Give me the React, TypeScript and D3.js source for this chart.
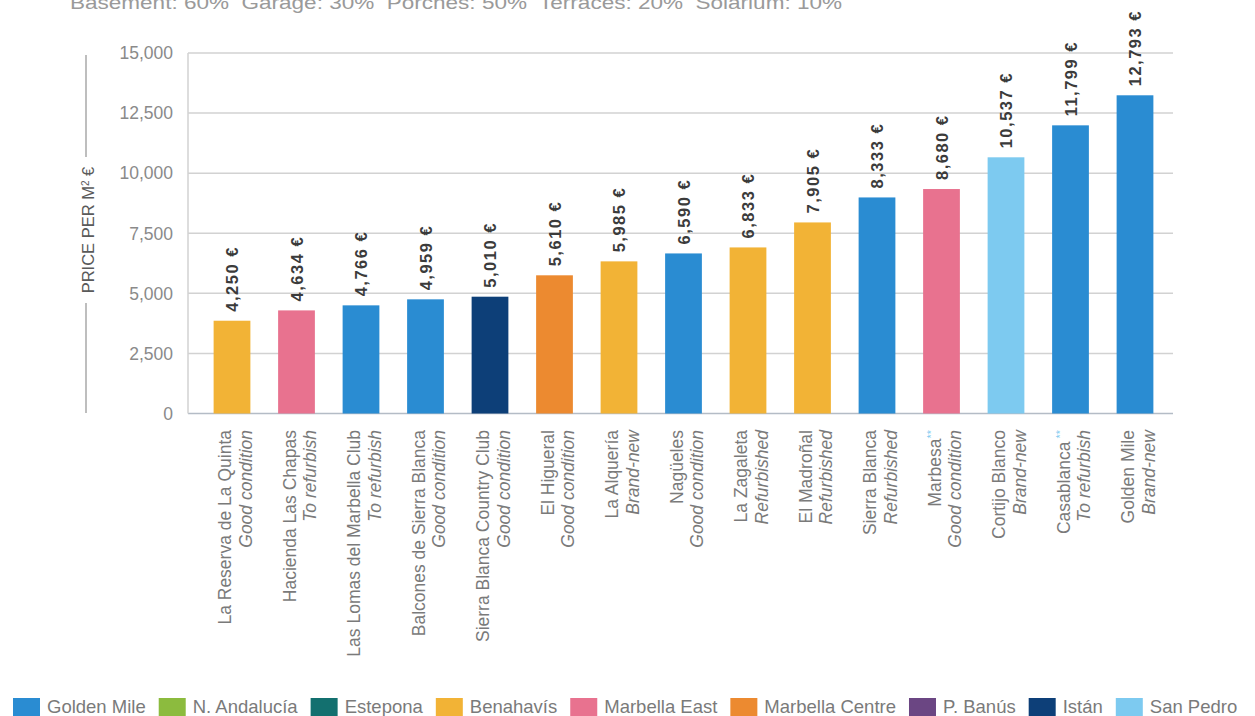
import React, { useEffect, useRef } from "react";
import * as d3 from "d3";

const W = 1255;
const H = 716;

const names = [
  "La Reserva de La Quinta",
  "Hacienda Las Chapas",
  "Las Lomas del Marbella Club",
  "Balcones de Sierra Blanca",
  "Sierra Blanca Country Club",
  "El Higueral",
  "La Alquería",
  "Nagüeles",
  "La Zagaleta",
  "El Madroñal",
  "Sierra Blanca",
  "Marbesa",
  "Cortijo Blanco",
  "Casablanca",
  "Golden Mile",
];
const marks = ["", "", "", "", "", "", "", "", "", "", "", "**", "", " **", ""];
const conditions = [
  "Good condition",
  "To refurbish",
  "To refurbish",
  "Good condition",
  "Good condition",
  "Good condition",
  "Brand-new",
  "Good condition",
  "Refurbished",
  "Refurbished",
  "Refurbished",
  "Good condition",
  "Brand-new",
  "To refurbish",
  "Brand-new",
];
// bar heights as drawn in the picture
const barValues = [3860, 4290, 4500, 4750, 4860, 5750, 6330, 6660, 6910, 7950, 8990, 9340, 10660, 11990, 13240];
// printed value labels
const labelValues = [4250, 4634, 4766, 4959, 5010, 5610, 5985, 6590, 6833, 7905, 8333, 8680, 10537, 11799, 12793];
const zones = [
  "Benahavís",
  "Marbella East",
  "Golden Mile",
  "Golden Mile",
  "Istán",
  "Marbella Centre",
  "Benahavís",
  "Golden Mile",
  "Benahavís",
  "Benahavís",
  "Golden Mile",
  "Marbella East",
  "San Pedro",
  "Golden Mile",
  "Golden Mile",
];
const legendNames = [
  "Golden Mile",
  "N. Andalucía",
  "Estepona",
  "Benahavís",
  "Marbella East",
  "Marbella Centre",
  "P. Banús",
  "Istán",
  "San Pedro",
];
const legendColors = [
  "#2a8cd2",
  "#8cbb3e",
  "#13706f",
  "#f2b336",
  "#e8728f",
  "#ec8a30",
  "#6b4683",
  "#0d3f78",
  "#7dcaf0",
];
const yTicks = [0, 2500, 5000, 7500, 10000, 12500, 15000];
const headerText = "Basement: 60%  Garage: 30%  Porches: 50%  Terraces: 20%  Solarium: 10%";

const FONT = "'Liberation Sans', Arial, sans-serif";

export default function App() {
  const ref = useRef<SVGSVGElement | null>(null);

  useEffect(() => {
    const svg = d3.select(ref.current);
    svg.selectAll("*").remove();

    const color = d3.scaleOrdinal<string, string>().domain(legendNames).range(legendColors);
    const y = d3.scaleLinear().domain([0, 15000]).range([413.5, 53]);
    const x = d3
      .scaleBand<number>()
      .domain(d3.range(names.length))
      .range([199.75, 1167.25])
      .paddingInner(0.43)
      .paddingOuter(0.215);

    // header (cut off at the top, as in the source)
    svg
      .append("text")
      .attr("x", 70)
      .attr("y", 9)
      .attr("font-family", FONT)
      .attr("font-size", 19)
      .attr("fill", "#9a9a9a")
      .attr("textLength", 772)
      .attr("lengthAdjust", "spacingAndGlyphs")
      .style("white-space", "pre")
      .text(headerText);

    // grid lines
    const gx0 = 188;
    const gx1 = 1173;
    svg
      .append("g")
      .selectAll("line")
      .data(yTicks)
      .join("line")
      .attr("x1", gx0)
      .attr("x2", gx1)
      .attr("y1", (d) => y(d))
      .attr("y2", (d) => y(d))
      .attr("stroke", (d) => (d === 0 ? "#b4bcc6" : "#d2d2d2"))
      .attr("stroke-width", 1.5);

    // left border of plot
    svg
      .append("line")
      .attr("x1", gx0)
      .attr("x2", gx0)
      .attr("y1", y(15000))
      .attr("y2", y(0))
      .attr("stroke", "#d2d2d2")
      .attr("stroke-width", 1.5);

    // y tick labels
    svg
      .append("g")
      .selectAll("text")
      .data(yTicks)
      .join("text")
      .attr("x", 173)
      .attr("y", (d) => y(d))
      .attr("dy", "0.36em")
      .attr("text-anchor", "end")
      .attr("font-family", FONT)
      .attr("font-size", 17.5)
      .attr("fill", "#8a8a8a")
      .text((d) => d3.format(",")(d));

    // y axis title with interrupted line
    const titleX = 88;
    const titleY = 230;
    svg
      .append("line")
      .attr("x1", 86)
      .attr("x2", 86)
      .attr("y1", 55)
      .attr("y2", 157)
      .attr("stroke", "#a8a8a8")
      .attr("stroke-width", 1.5);
    svg
      .append("line")
      .attr("x1", 86)
      .attr("x2", 86)
      .attr("y1", 303)
      .attr("y2", 413)
      .attr("stroke", "#a8a8a8")
      .attr("stroke-width", 1.5);
    const yt = svg
      .append("text")
      .attr("transform", `translate(${titleX},${titleY}) rotate(-90)`)
      .attr("text-anchor", "middle")
      .attr("dy", "0.36em")
      .attr("font-family", FONT)
      .attr("font-size", 16.5)
      .attr("fill", "#5a5a5a");
    yt.append("tspan").text("PRICE PER M");
    yt.append("tspan").attr("font-size", 10).attr("baseline-shift", "super").text("2");
    yt.append("tspan").text(" €");

    // bars
    svg
      .append("g")
      .selectAll("rect")
      .data(barValues)
      .join("rect")
      .attr("x", (_, i) => x(i)!)
      .attr("width", x.bandwidth())
      .attr("y", (d) => y(d))
      .attr("height", (d) => y(0) - y(d))
      .attr("fill", (_, i) => color(zones[i]));

    // value labels
    svg
      .append("g")
      .selectAll("text")
      .data(labelValues)
      .join("text")
      .attr("transform", (_, i) => `translate(${x(i)! + x.bandwidth() / 2 + 6},${y(barValues[i]) - 9}) rotate(-90)`)
      .attr("font-family", FONT)
      .attr("font-size", 16.5)
      .attr("font-weight", "bold")
      .attr("letter-spacing", 1.5)
      .attr("fill", "#3b3b3b")
      .text((d) => `${d3.format(",")(d)} €`);

    // category labels
    const cat = svg
      .append("g")
      .selectAll("g")
      .data(names)
      .join("g")
      .attr("transform", (_, i) => `translate(${x(i)! + x.bandwidth() / 2},430) rotate(-90)`)
      .attr("font-family", FONT)
      .attr("font-size", 17.5)
      .attr("fill", "#7a7a7a")
      .attr("text-anchor", "end");
    const l1 = cat.append("text").attr("x", 0).attr("y", -1);
    l1.append("tspan").text((d) => d);
    l1.append("tspan")
      .attr("fill", "#7dcaf0")
      .attr("font-size", 11)
      .attr("baseline-shift", "super")
      .style("white-space", "pre")
      .text((_, i) => marks[i]);
    cat
      .append("text")
      .attr("x", 0)
      .attr("y", 19.5)
      .attr("font-style", "italic")
      .text((_, i) => conditions[i]);

    // legend
    const lg = svg.append("g");
    let lx = 13;
    legendNames.forEach((n, i) => {
      lg.append("rect")
        .attr("x", lx)
        .attr("y", 698)
        .attr("width", 27)
        .attr("height", 18)
        .attr("fill", legendColors[i]);
      const t = lg
        .append("text")
        .attr("x", lx + 34)
        .attr("y", 713)
        .attr("font-family", FONT)
        .attr("font-size", 18.5)
        .attr("fill", "#7a7a7a")
        .text(n);
      const w = (t.node() as SVGTextElement).getComputedTextLength();
      lx += 34 + w + 13;
    });
  }, []);

  return (
    <svg
      ref={ref}
      width={W}
      height={H}
      viewBox={`0 0 ${W} ${H}`}
      style={{ position: "absolute", left: 0, top: 0, background: "#fff" }}
    />
  );
}
